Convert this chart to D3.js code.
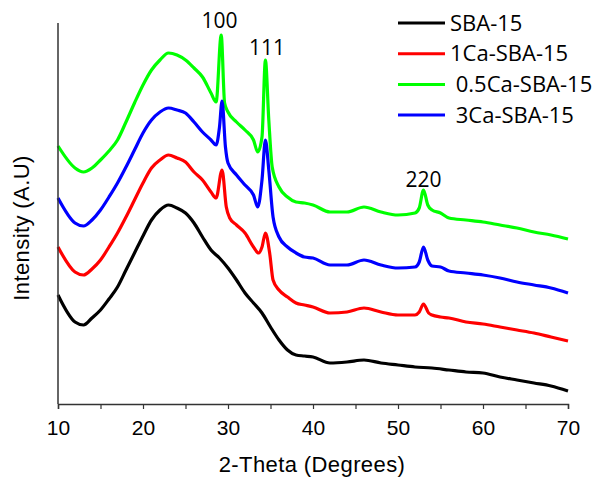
<!DOCTYPE html>
<html>
<head>
<meta charset="utf-8">
<script src="https://cdn.jsdelivr.net/npm/d3@7"></script>
<style>
  body { margin: 0; background: #fff; }
  text { font-family: "Open Sans", sans-serif; fill: #000; }
</style>
</head>
<body>
<div id="chart"></div>
<script>
// XRD patterns (2-theta in degrees, intensity in a.u., stacked offsets included)
var sbaAngle = [10,12,13,14,15,16,17,18,19,20,21,22,23,24,25,26,27,28,29,30,31,32,33,34,35,36,37,38,39,40,42,44,46,48,50,52,54,56,58,60,62,64,66,68,70];
var sbaInt   = [109,82,79,86,94,105,117,134,151,168,184,194,199,196,191,181,167,154,146,136,124,111,101,91,77,64,54,49,48,47,41,42,44,41,39,37,36,34,32,31,27,24,21,18,13];

var ca1Angle = [10,12,13,14,15,16,17,18,19,20,21,22,23,24,25,26,27,28,28.6,29.3,29.8,30.2,31,32,33,33.6,34,34.4,34.9,35.3,36,37,38,39,40,42,44,46,48,50,52,52.5,53,53.6,54,55,56,58,60,62,64,66,68,70];
var ca1Int   = [157,132,129,135,144,157,171,187,204,221,236,244,249,246,242,232,224,212,206,234,197,186,179,171,157,151,157,171,151,124,114,107,101,99,97,91,92,96,92,89,89,92,100,91,89,87,86,82,80,77,74,71,67,63];

var ca05Angle = [10,12,13,14,15,16,17,18,19,20,21,22,23,24,25,26,27,28,28.6,29.2,29.6,30,31,32,33,33.5,34,34.4,34.8,35.2,36,37,38,39,40,42,44,46,48,50,52,52.5,53,53.5,54,55,56,58,60,62,64,66,68,70];
var ca05Int   = [258,236,232,236,244,253,264,282,301,319,334,344,351,349,344,336,327,311,302,369,301,292,282,274,264,252,267,344,284,237,217,207,202,201,199,192,192,197,192,189,191,196,214,199,194,191,186,184,182,179,176,172,169,165];

var ca3Angle = [10,12,13,14,15,16,17,18,19,20,21,22,23,24,25,26,27,28,28.6,29,29.3,29.7,30,31,32,33,33.5,34,34.4,34.8,35.3,36,37,38,39,40,42,44,46,48,50,52,52.5,53,53.5,54,55,56,58,60,62,64,66,68,70];
var ca3Int   = [206,181,178,184,194,207,221,237,254,271,284,292,296,294,291,282,272,264,259,277,303,257,241,229,219,209,197,224,264,234,187,167,157,151,147,146,139,139,144,139,136,137,142,157,144,138,137,133,131,129,126,122,119,116,111];

var seriesNames  = ["SBA-15", "1Ca-SBA-15", " 0.5Ca-SBA-15", " 3Ca-SBA-15"];
var seriesColors = ["#000000", "#ff0000", "#00ff00", "#0000ff"];

var peakLabels = ["100", "111", "220"];
var peakAngle  = [29.0, 34.6, 53.0];
var peakInt    = [376, 349, 217];

var xTicks = [10, 20, 30, 40, 50, 60, 70];

var margin = {top: 23, right: 28, bottom: 73, left: 58},
    width = 596 - margin.left - margin.right,
    height = 477 - margin.top - margin.bottom;

var svg = d3.select("#chart").append("svg")
    .attr("width", 596)
    .attr("height", 477)
  .append("g")
    .attr("transform", "translate(" + margin.left + "," + margin.top + ")");

var x = d3.scaleLinear().domain([10, 70]).range([0, width]);
var y = d3.scaleLinear().domain([0, 381]).range([height, 0]);

function zip(a, b) { return a.map(function(d, i) { return {a: d, v: b[i]}; }); }

var series = [zip(sbaAngle, sbaInt), zip(ca1Angle, ca1Int), zip(ca05Angle, ca05Int), zip(ca3Angle, ca3Int)];

var line = d3.line()
    .curve(d3.curveMonotoneX)
    .x(function(d) { return x(d.a); })
    .y(function(d) { return y(d.v); });

series.forEach(function(s, i) {
  svg.append("path")
      .datum(s)
      .attr("fill", "none")
      .attr("stroke", seriesColors[i])
      .attr("stroke-width", 3.2)
      .attr("stroke-linejoin", "round")
      .attr("d", line);
});

// x axis with minor ticks
var xAxis = svg.append("g")
    .attr("transform", "translate(0," + height + ")")
    .call(d3.axisBottom(x).tickValues(d3.range(10, 71, 5)).tickSize(5)
      .tickFormat(function(d) { return xTicks.indexOf(d) >= 0 ? d : ""; }));
xAxis.select(".domain").attr("stroke", "#333").attr("stroke-width", 1.5);
xAxis.selectAll(".tick line").attr("stroke", "#333").attr("stroke-width", 1.2);
xAxis.selectAll(".tick text")
    .attr("dy", null).attr("y", 31)
    .style("font-family", "'Liberation Sans', Arial, sans-serif").style("font-size", "21px").attr("fill", "#222");

// y axis line only
svg.append("line")
    .attr("x1", 0).attr("x2", 0).attr("y1", 0).attr("y2", height)
    .attr("stroke", "#333").attr("stroke-width", 1.5);

// axis titles
svg.append("text")
    .attr("x", 312 - margin.left)
    .attr("y", height + 68)
    .attr("text-anchor", "middle")
    .style("font-family", "'Liberation Sans', Arial, sans-serif")
    .style("font-size", "22px")
    .style("letter-spacing", "0.4px")
    .attr("fill", "#222")
    .text("2-Theta (Degrees)");

svg.append("text")
    .attr("transform", "translate(" + (29 - margin.left) + "," + (228 - margin.top) + ") rotate(-90)")
    .attr("text-anchor", "middle")
    .style("font-family", "'Liberation Sans', Arial, sans-serif")
    .style("font-size", "22px")
    .style("letter-spacing", "0.4px")
    .attr("fill", "#222")
    .text("Intensity (A.U)");

// peak labels
peakLabels.forEach(function(t, i) {
  svg.append("text")
      .attr("x", x(peakAngle[i]))
      .attr("y", y(peakInt[i]))
      .attr("text-anchor", "middle")
      .style("font-size", "21px")
      .text(t);
});

// legend
var legend = svg.append("g").attr("transform", "translate(" + (398 - margin.left) + ",0)");
seriesNames.forEach(function(n, i) {
  var ly = i * 30.7;
  legend.append("line")
      .attr("x1", 0).attr("x2", 47)
      .attr("y1", ly).attr("y2", ly)
      .attr("stroke", seriesColors[i]).attr("stroke-width", 3);
  legend.append("text")
      .attr("x", 52)
      .attr("y", ly)
      .attr("dy", "0.35em")
      .style("font-size", "22px")
      .style("white-space", "pre")
      .attr("xml:space", "preserve")
      .text(n);
});
</script>
</body>
</html>
